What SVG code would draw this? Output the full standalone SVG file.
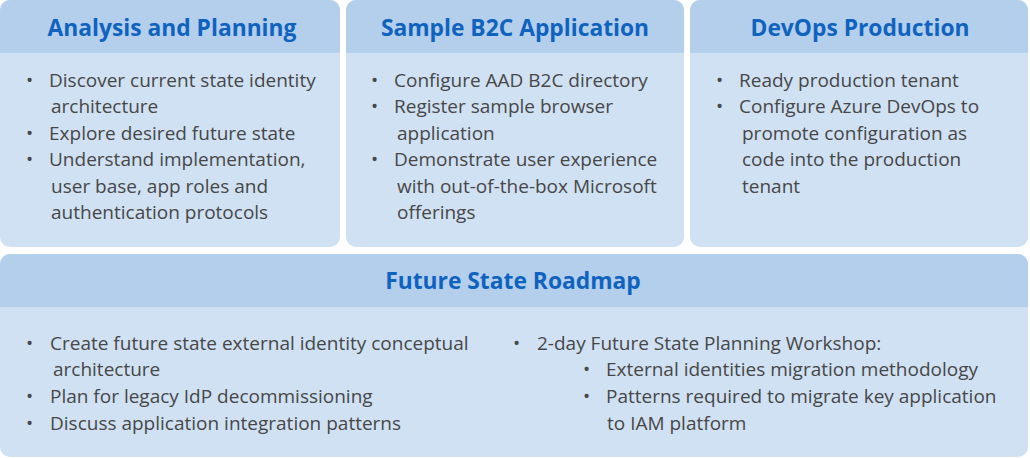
<svg xmlns="http://www.w3.org/2000/svg" width="1030" height="458" viewBox="0 0 1030 458">
<style>
.body{fill:#cfe1f3}
.head{fill:#b4cfeb}
.title{font-family:"Open Sans","Liberation Sans",sans-serif;font-weight:700;font-size:22.8px;fill:#0f63bf;text-anchor:middle}
.t{font-family:"Open Sans","Liberation Sans",sans-serif;font-size:19px;fill:#474747}
</style>
<defs>
<clipPath id="c1"><rect x="0" y="0" width="340" height="247" rx="10"/></clipPath>
<clipPath id="c2"><rect x="346" y="0" width="338" height="247" rx="10"/></clipPath>
<clipPath id="c3"><rect x="690" y="0" width="338" height="247" rx="10"/></clipPath>
<clipPath id="c4"><rect x="0" y="254" width="1028" height="203" rx="10"/></clipPath>
</defs>
<rect width="1030" height="458" fill="#ffffff"/>
<g id="analysis">
<g clip-path="url(#c1)"><rect class="body" x="0" y="0" width="340" height="247"/><rect class="head" x="0" y="0" width="340" height="53"/></g>
<text class="title" x="172" y="36">Analysis and Planning</text>
<text class="t"><tspan x="26" y="87">•</tspan><tspan x="49" y="87">Discover current state identity</tspan><tspan x="51" y="113">architecture</tspan><tspan x="26" y="140">•</tspan><tspan x="49" y="140">Explore desired future state</tspan><tspan x="26" y="166">•</tspan><tspan x="49" y="166">Understand implementation,</tspan><tspan x="51" y="193">user base, app roles and</tspan><tspan x="51" y="219">authentication protocols</tspan></text>
</g>
<g id="sample">
<g clip-path="url(#c2)"><rect class="body" x="346" y="0" width="338" height="247"/><rect class="head" x="346" y="0" width="338" height="53"/></g>
<text class="title" x="515" y="36">Sample B2C Application</text>
<text class="t"><tspan x="371" y="87">•</tspan><tspan x="394" y="87">Configure AAD B2C directory</tspan><tspan x="371" y="113">•</tspan><tspan x="394" y="113">Register sample browser</tspan><tspan x="397" y="140">application</tspan><tspan x="371" y="166">•</tspan><tspan x="394" y="166">Demonstrate user experience</tspan><tspan x="397" y="193">with out-of-the-box Microsoft</tspan><tspan x="397" y="219">offerings</tspan></text>
</g>
<g id="devops">
<g clip-path="url(#c3)"><rect class="body" x="690" y="0" width="338" height="247"/><rect class="head" x="690" y="0" width="338" height="53"/></g>
<text class="title" x="860" y="36">DevOps Production</text>
<text class="t"><tspan x="716" y="87">•</tspan><tspan x="739" y="87">Ready production tenant</tspan><tspan x="716" y="113">•</tspan><tspan x="739" y="113">Configure Azure DevOps to</tspan><tspan x="742" y="140">promote configuration as</tspan><tspan x="742" y="166">code into the production</tspan><tspan x="742" y="193">tenant</tspan></text>
</g>
<g id="roadmap">
<g clip-path="url(#c4)"><rect class="body" x="0" y="254" width="1028" height="203"/><rect class="head" x="0" y="254" width="1028" height="53"/></g>
<text class="title" x="513" y="289">Future State Roadmap</text>
<text class="t"><tspan x="26" y="350">•</tspan><tspan x="50" y="350">Create future state external identity conceptual</tspan><tspan x="53" y="376">architecture</tspan><tspan x="26" y="403">•</tspan><tspan x="50" y="403">Plan for legacy IdP decommissioning</tspan><tspan x="26" y="430">•</tspan><tspan x="50" y="430">Discuss application integration patterns</tspan></text>
<text class="t"><tspan x="513" y="350">•</tspan><tspan x="537" y="350">2-day Future State Planning Workshop:</tspan><tspan x="583" y="376">•</tspan><tspan x="606" y="376">External identities migration methodology</tspan><tspan x="583" y="403">•</tspan><tspan x="606" y="403">Patterns required to migrate key application</tspan><tspan x="607" y="430">to IAM platform</tspan></text>
</g>
<g id="connectors"/>
</svg>
